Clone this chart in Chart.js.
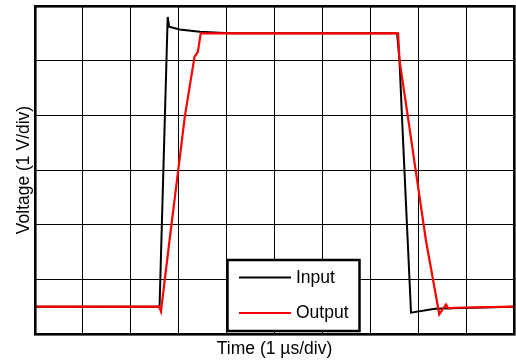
<!DOCTYPE html>
<html>
<head>
<meta charset="utf-8">
<script src="https://cdn.jsdelivr.net/npm/chart.js@4/dist/chart.umd.min.js"></script>
<style>
  html, body { margin: 0; padding: 0; background: #ffffff; }
  #wrap { width: 516px; height: 360px; position: relative; }
</style>
</head>
<body>
<div id="wrap"><canvas id="c" width="516" height="360"></canvas></div>
<script>
// Time in divisions (1 µs/div), voltage in divisions (1 V/div)
const inputTime    = [0, 2.60, 2.77, 2.80, 3.02, 3.44, 4.06, 7.56, 7.61, 7.66, 7.78, 7.85, 8.35, 8.70, 10];
const inputVoltage = [0.5, 0.5, 5.80, 5.62, 5.57, 5.53, 5.50, 5.50, 5.00, 4.00, 1.72, 0.39, 0.46, 0.47, 0.50];

const outputTime    = [0, 2.59, 2.63, 2.71, 2.81, 3.13, 3.33, 3.40, 3.46, 7.58, 7.61, 7.78, 8.16, 8.44, 8.58, 8.63, 8.75, 10];
const outputVoltage = [0.5, 0.5, 0.41, 1.00, 1.72, 3.99, 5.07, 5.16, 5.50, 5.50, 5.00, 4.00, 1.72, 0.36, 0.54, 0.47, 0.48, 0.50];

const seriesLabels = ['Input', 'Output'];
const xTitle = 'Time (1 µs/div)';
const yTitle = 'Voltage (1 V/div)';

function pts(xs, ys) { return xs.map((x, i) => ({ x: x, y: ys[i] })); }

const FONT = '"Liberation Sans", Arial, Helvetica, sans-serif';

const framePlugin = {
  id: 'frame',
  afterDraw(chart) {
    const ctx = chart.ctx, a = chart.chartArea;
    ctx.save();
    // legend box
    const bx = 227.5, by = 260, bw = 132, bh = 71;
    ctx.fillStyle = '#ffffff';
    ctx.fillRect(bx, by, bw, bh);
    ctx.lineWidth = 2.5;
    ctx.strokeStyle = '#000000';
    ctx.strokeRect(bx, by, bw, bh);
    const items = [
      { label: chart.data.datasets[1].label, color: chart.data.datasets[1].borderColor, y: 277.5 },
      { label: chart.data.datasets[0].label, color: chart.data.datasets[0].borderColor, y: 313 }
    ];
    ctx.font = '17.5px ' + FONT;
    ctx.textBaseline = 'middle';
    ctx.textAlign = 'left';
    items.forEach(it => {
      ctx.beginPath();
      ctx.lineWidth = 2;
      ctx.strokeStyle = it.color;
      ctx.moveTo(239, it.y);
      ctx.lineTo(291, it.y);
      ctx.stroke();
      ctx.fillStyle = '#000000';
      ctx.fillText(it.label, 296, it.y + 0.5);
    });
    // outer frame
    ctx.lineWidth = 2.6;
    ctx.strokeStyle = '#000000';
    ctx.strokeRect(a.left + 0.3, a.top + 0.3, a.right - a.left, a.bottom - a.top);
    ctx.restore();
  }
};

new Chart(document.getElementById('c'), {
  type: 'line',
  data: {
    datasets: [
      {
        label: seriesLabels[1],
        data: pts(outputTime, outputVoltage),
        borderColor: '#ff0000',
        borderWidth: 2.2,
        pointRadius: 0,
        tension: 0,
        fill: false,
        order: 0
      },
      {
        label: seriesLabels[0],
        data: pts(inputTime, inputVoltage),
        borderColor: '#000000',
        borderWidth: 2,
        pointRadius: 0,
        tension: 0,
        fill: false,
        order: 1
      }
    ]
  },
  options: {
    responsive: false,
    animation: false,
    layout: { padding: { top: 6, right: 2, left: 0, bottom: 0 } },
    plugins: {
      legend: { display: false },
      tooltip: { enabled: false }
    },
    scales: {
      x: {
        type: 'linear',
        min: 0, max: 10,
        ticks: { display: false, stepSize: 1 },
        grid: { color: '#000000', lineWidth: 1, drawTicks: false },
        border: { display: false },
        title: {
          display: true, text: xTitle, color: '#000000',
          font: { family: FONT, size: 17.5 },
          padding: { top: 0, bottom: 0.5 }
        },
        afterFit(scale) { scale.height = 26; }
      },
      y: {
        type: 'linear',
        min: 0, max: 6,
        ticks: { display: false, stepSize: 1 },
        grid: { color: '#000000', lineWidth: 1, drawTicks: false },
        border: { display: false },
        title: {
          display: true, text: yTitle, color: '#000000',
          font: { family: FONT, size: 17.5 },
          padding: { top: 13.5, bottom: 0 }
        },
        afterFit(scale) { scale.width = 35; }
      }
    }
  },
  plugins: [framePlugin]
});
</script>
</body>
</html>
